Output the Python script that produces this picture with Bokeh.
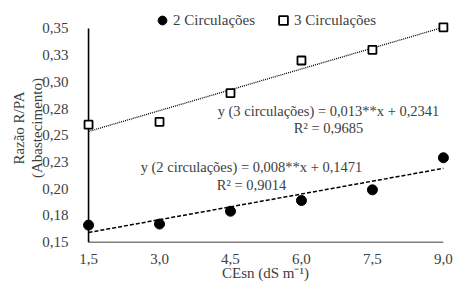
from bokeh.plotting import figure
from bokeh.models import (FixedTicker, Label, Legend, LegendItem, ColumnDataSource)
from bokeh.embed import file_html
from bokeh.resources import INLINE

# ---- data ----
x_vals = [1.5, 3.0, 4.5, 6.0, 7.5, 9.0]
x_labels = ["1,5", "3,0", "4,5", "6,0", "7,5", "9,0"]
circ2 = [0.166, 0.167, 0.179, 0.189, 0.199, 0.229]
circ3 = [0.260, 0.2625, 0.2895, 0.320, 0.330, 0.351]
y_ticks = [0.15, 0.175, 0.20, 0.225, 0.25, 0.275, 0.30, 0.325, 0.35]
y_labels = ["0,15", "0,18", "0,20", "0,23", "0,25", "0,28", "0,30", "0,33", "0,35"]
slope2, inter2 = 0.008, 0.1471
slope3, inter3 = 0.013, 0.2341
eq2 = "y (2 circulações) = 0,008**x + 0,1471"
r2_2 = "R² = 0,9014"
eq3 = "y (3 circulações) = 0,013**x + 0,2341"
r2_3 = "R² = 0,9685"
series_names = ["2 Circulações", "3 Circulações"]
x_title = "CEsn (dS m\u207b\u00b9)"
y_title = "Razão R/PA\n(Abastecimento)"

FONT = "Liberation Serif"
FS = "15px"
TXT = "#404040"

x0, x1 = x_vals[0], x_vals[-1]
y0, y1 = y_ticks[0], y_ticks[-1]

p = figure(width=454, height=284, output_backend="svg", toolbar_location=None,
           x_range=(x0 - 0.17, x1 + 0.15), y_range=(y0 - 0.004, y1 + 0.0177),
           min_border_left=80, min_border_right=4, min_border_top=9, min_border_bottom=38)
p.outline_line_color = None
p.xgrid.visible = False
p.ygrid.visible = False
p.background_fill_color = "white"

for ax in (p.xaxis[0], p.yaxis[0]):
    ax.axis_line_color = None
    ax.major_tick_line_color = None
    ax.minor_tick_line_color = None
    ax.major_label_text_font = FONT
    ax.major_label_text_font_size = FS
    ax.major_label_text_color = TXT
    ax.axis_label_text_font = FONT
    ax.axis_label_text_font_size = FS
    ax.axis_label_text_font_style = "normal"
    ax.axis_label_text_color = TXT
    ax.axis_label_text_line_height = 1.15

p.xaxis.ticker = FixedTicker(ticks=x_vals)
p.xaxis.major_label_overrides = {v: l for v, l in zip(x_vals, x_labels)}
p.xaxis.major_label_standoff = 1
p.xaxis.major_label_text_line_height = 1.0
p.xaxis.axis_label = x_title
p.xaxis.axis_label_standoff = -2
p.xaxis.axis_label_text_line_height = 1.0
p.yaxis.ticker = FixedTicker(ticks=y_ticks)
p.yaxis.major_label_overrides = {v: l for v, l in zip(y_ticks, y_labels)}
p.yaxis.major_label_standoff = 6
p.yaxis.axis_label = y_title
p.yaxis.axis_label_standoff = -6

# axis lines
p.segment(x0=[x0], y0=[y0], x1=[x1], y1=[y0], line_color="#7f7f7f", line_width=1.6)
p.segment(x0=[x0], y0=[y0], x1=[x0], y1=[y1], line_color="black", line_width=1.6)

# trend lines
p.line(x=[x0, x1], y=[slope2 * x0 + inter2, slope2 * x1 + inter2],
       line_color="black", line_width=1.5, line_dash="4 2")
p.line(x=[x0, x1], y=[slope3 * x0 + inter3, slope3 * x1 + inter3],
       line_color="black", line_width=1.3, line_dash="1 1")

src = ColumnDataSource(dict(x=x_vals, c2=circ2, c3=circ3))
r2 = p.scatter("x", "c2", source=src, marker="circle", size=10,
               fill_color="black", line_color="black")
r3 = p.scatter("x", "c3", source=src, marker="square", size=8,
               fill_color="white", line_color="black", line_width=1.8)

legend = Legend(items=[LegendItem(label=series_names[0], renderers=[r2]),
                       LegendItem(label=series_names[1], renderers=[r3])],
                orientation="horizontal", location=(71, 215),
                glyph_width=22, glyph_height=22, label_standoff=-14, spacing=17,
                padding=0, margin=0, border_line_color=None, background_fill_alpha=0,
                label_text_font=FONT, label_text_font_size=FS, label_text_color=TXT)
p.add_layout(legend, "center")

def add_text(txt, sx, sy, size="14.5px"):
    p.add_layout(Label(x=sx, y=sy, x_units="screen", y_units="screen", text=txt,
                       text_font=FONT, text_font_size=size, text_color=TXT,
                       text_align="center", text_baseline="middle"))

add_text(eq3, 248, 136)
add_text(r2_3, 248, 119)
add_text(eq2, 171, 80)
add_text(r2_2, 171, 62)

open("out.html", "w").write(file_html(p, INLINE))
